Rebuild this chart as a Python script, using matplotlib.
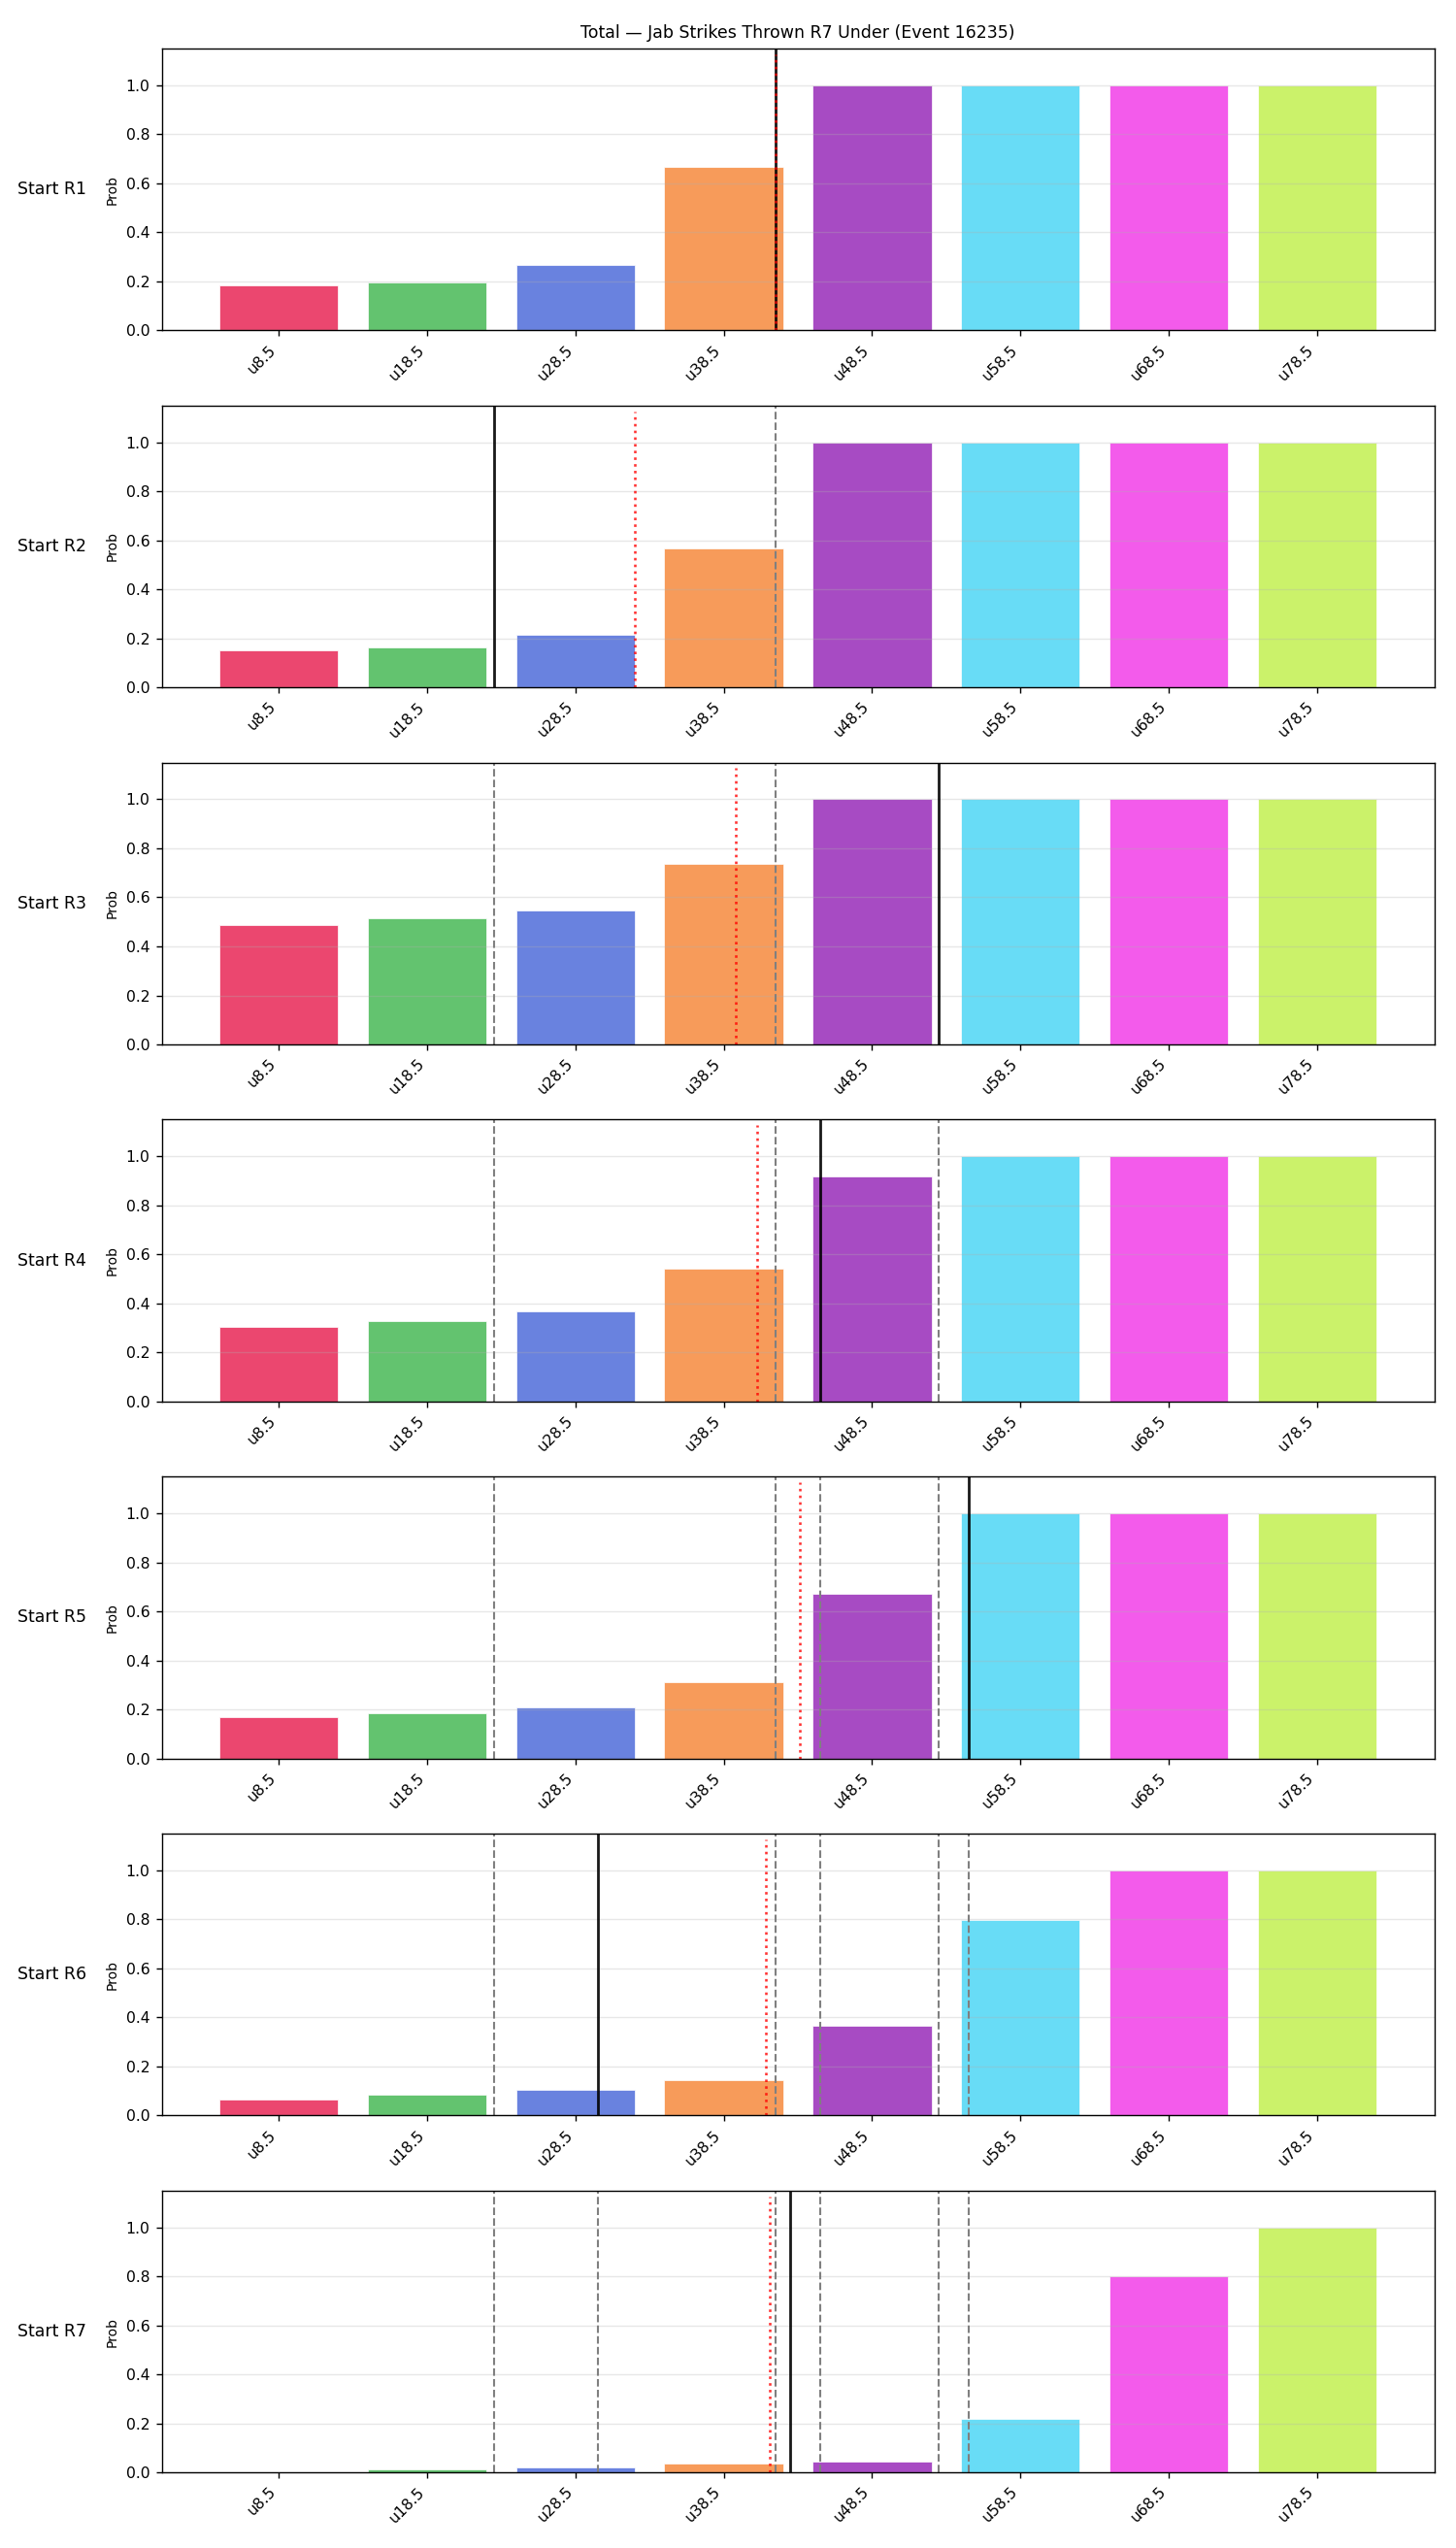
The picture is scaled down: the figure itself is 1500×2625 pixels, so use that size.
import matplotlib
matplotlib.use("Agg")
import matplotlib.pyplot as plt
import numpy as np

# under lines and round labels
thresholds = [8.5, 18.5, 28.5, 38.5, 48.5, 58.5, 68.5, 78.5]
tick_labels = ["u8.5", "u18.5", "u28.5", "u38.5", "u48.5", "u58.5", "u68.5", "u78.5"]
rounds = ["Start R1", "Start R2", "Start R3", "Start R4", "Start R5", "Start R6", "Start R7"]

# prob of going under each line, one row per starting round
probs_r1 = [0.185, 0.197, 0.268, 0.668, 1.0, 1.0, 1.0, 1.0]
probs_r2 = [0.150, 0.162, 0.214, 0.568, 1.0, 1.0, 1.0, 1.0]
probs_r3 = [0.488, 0.516, 0.548, 0.735, 1.0, 1.0, 1.0, 1.0]
probs_r4 = [0.303, 0.327, 0.367, 0.542, 0.919, 1.0, 1.0, 1.0]
probs_r5 = [0.170, 0.185, 0.209, 0.312, 0.672, 1.0, 1.0, 1.0]
probs_r6 = [0.066, 0.086, 0.106, 0.145, 0.367, 0.798, 1.0, 1.0]
probs_r7 = [0.003, 0.013, 0.021, 0.037, 0.045, 0.220, 0.799, 1.0]
all_probs = [probs_r1, probs_r2, probs_r3, probs_r4, probs_r5, probs_r6, probs_r7]

# projected total at each round (solid) and running average (red dotted)
projected = [42, 23, 53, 45, 55, 30, 43]
running_avg = [42.0, 32.5, 39.33, 40.75, 43.6, 41.33, 41.57]

colors = ["#e6194B", "#3cb44b", "#4363d8", "#f58231",
          "#911eb4", "#42d4f4", "#f032e6", "#bfef45"]

fig, axes = plt.subplots(len(rounds), 1, figsize=(12, 21), dpi=125)
plt.subplots_adjust(left=0.111, right=0.985, top=0.981, bottom=0.0296, hspace=0.266)

for i, ax in enumerate(axes):
    ax.bar(thresholds, all_probs[i], width=8, color=colors, alpha=0.8,
           edgecolor="white", linewidth=0.5)

    # earlier projections as grey dashes
    for prev in projected[:i]:
        ax.axvline(prev, color="gray", linestyle="--", linewidth=1.2)
    ax.axvline(projected[i], color="black", linewidth=1.6, alpha=0.9)
    ax.axvline(running_avg[i], color="red", linestyle=":", linewidth=1.5,
               alpha=0.8, ymax=0.98)

    ax.set_ylim(0, 1.15)
    ax.set_xticks(thresholds)
    ax.set_xticklabels(tick_labels, rotation=45, ha="right")
    ax.tick_params(labelsize=9)
    ax.set_ylabel("Prob", fontsize=8)
    ax.grid(axis="y", alpha=0.3)
    ax.text(-0.059, 0.5, rounds[i], transform=ax.transAxes,
            ha="right", va="center", fontsize=10)

axes[0].set_title("Total \u2014 Jab Strikes Thrown R7 Under (Event 16235)", fontsize=10)

plt.savefig("out.png", dpi=125)
